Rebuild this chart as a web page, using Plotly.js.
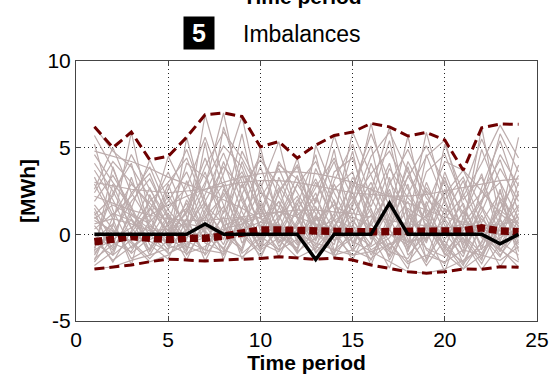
<!DOCTYPE html>
<html>
<head>
<meta charset="utf-8">
<script src="https://cdn.plot.ly/plotly-3.0.1.min.js"></script>
<style>html,body{margin:0;padding:0;background:#fff;}#chart{width:549px;height:379px;}</style>
</head>
<body>
<div id="chart"></div>
<script>
var periods = [1,2,3,4,5,6,7,8,9,10,11,12,13,14,15,16,17,18,19,20,21,22,23,24];
var xTicks = [0,5,10,15,20,25];
var yTicks = [-5,0,5,10];

var actual = [0,0,0,0,0,0,0.6,0,0,0,0,0,-1.45,0,0,0,1.8,0,0,0,0,0,-0.55,0];
var meanImb = [-0.43,-0.23,-0.13,-0.23,-0.3,-0.23,-0.23,-0.1,0.13,0.25,0.25,0.2,0.15,0.15,0.15,0.15,0.15,0.15,0.18,0.2,0.2,0.37,0.2,0.15];
var upperImb = [6.2,5.0,5.9,4.3,4.5,5.6,6.9,7.0,6.8,5.05,5.35,4.4,5.15,5.7,5.9,6.4,6.2,5.67,5.88,5.44,3.7,6.15,6.36,6.35];
var lowerImb = [-2.0,-1.87,-1.77,-1.58,-1.43,-1.48,-1.54,-1.48,-1.43,-1.39,-1.29,-1.35,-1.44,-1.37,-1.48,-1.77,-1.95,-2.16,-2.24,-2.16,-2.0,-2.02,-1.87,-1.9];

var s1 = [6.2,4.8,3.9,2.1,0.5,-0.8,1.2,3.5,6.8,2.0,-0.5,1.4,3.2,0.8,-0.9,2.5,6.2,1.1,-0.3,0.9,2.2,4.1,6.3,4.4];
var s2 = [4.8,4.5,4.2,3.8,3.3,2.9,2.5,2.0,1.5,0.9,0.4,0.0,-0.5,-0.9,-1.2,-1.0,-0.6,0.2,1.1,2.3,3.7,2.5,1.2,0.3];
var s3 = [-1.2,0.5,5.9,1.0,-0.7,0.3,2.8,7.0,2.1,-0.4,1.5,4.4,0.2,-1.1,1.8,6.4,2.0,-0.8,0.5,3.3,0.0,-1.5,2.1,0.6];
var s4 = [1.5,-0.5,-1.0,0.8,4.5,2.3,0.1,-1.2,0.4,2.6,5.35,1.0,-0.6,0.9,3.0,1.2,-1.3,0.7,5.88,2.0,-0.5,1.3,3.8,1.9];
var s5 = [0.3,1.2,0.8,-0.4,-1.0,5.6,1.5,0.0,-0.9,5.05,0.6,-1.0,5.15,2.4,0.3,-1.5,1.2,5.67,1.0,-1.2,0.4,6.15,0.8,-0.6];
var s6 = [-2.0,-1.87,-1.5,-1.2,-0.8,-0.5,-0.2,0.3,0.6,1.0,1.3,1.0,0.6,0.2,-0.4,-1.0,-1.6,-2.16,-2.24,-2.0,-1.5,-0.8,-0.2,0.4];
var s7 = [4.6,3.0,1.5,4.3,2.0,0.5,6.9,3.2,0.1,-1.0,2.5,4.0,1.8,5.7,2.4,0.0,-1.2,2.3,4.5,5.44,1.6,-0.7,1.0,4.0];
var s8 = [0.8,0.2,-0.5,-1.58,-1.2,-0.2,1.0,2.2,3.6,1.4,-0.3,-1.35,-0.8,0.5,1.9,3.5,4.8,2.6,0.5,-1.1,-2.0,-1.2,0.3,1.7];
var s9 = [2.6,5.0,2.4,0.7,1.9,3.6,1.1,-0.6,2.3,4.6,2.2,0.3,-1.44,1.0,5.9,3.4,0.9,-1.0,1.6,4.2,3.7,1.5,-0.8,-1.9];
var s10 = [-0.9,-0.3,0.4,1.1,1.7,2.2,2.6,3.0,3.3,3.5,3.6,3.6,3.5,3.3,3.0,2.6,2.2,1.8,1.4,1.0,0.7,0.4,0.2,0.0];
var s11 = [1.9,3.4,1.6,-0.6,-1.43,0.9,3.0,5.1,3.9,1.1,-1.29,0.8,2.7,4.4,2.1,-0.2,2.9,4.9,2.4,0.1,-1.3,1.8,4.6,2.8];
var s12 = [3.7,2.0,-0.2,1.4,3.6,1.0,-1.54,0.6,4.8,2.6,0.2,2.9,1.2,-1.37,0.4,4.1,1.6,-0.5,3.0,0.5,-1.0,2.7,5.4,2.2];
var s13 = [0.0,-1.6,0.2,2.7,0.4,-1.48,0.8,4.2,1.3,-0.8,3.3,0.9,-0.9,2.9,0.6,-1.77,0.9,3.9,0.2,-2.16,1.0,3.5,-0.4,-1.2];
var s14 = [-1.5,1.0,2.9,1.8,0.6,1.5,4.4,1.7,-1.43,0.2,1.9,-0.4,3.8,1.5,-0.9,2.0,5.4,0.8,-1.4,1.5,0.5,4.9,2.0,-0.5];
var s15 = [2.2,1.8,1.4,1.1,0.9,0.8,0.8,0.9,1.0,1.2,1.3,1.4,1.4,1.3,1.2,1.0,0.8,0.6,0.5,0.4,0.4,0.5,0.6,0.7];
var s16 = [-0.6,2.4,4.1,0.3,-0.9,2.0,0.0,6.2,3.0,0.5,-0.9,1.7,4.6,0.3,-1.48,0.8,2.4,-1.2,0.0,5.2,2.3,0.1,-1.87,-0.3];
var s17 = [5.2,1.4,-0.8,0.0,2.6,4.9,2.0,-1.48,1.5,3.9,1.0,2.2,0.0,3.6,4.4,1.4,-0.8,0.3,2.7,1.1,3.1,0.0,1.5,3.4];
var s18 = [1.0,0.0,1.9,3.2,1.1,-0.7,-1.1,1.3,5.8,0.9,4.2,2.4,0.6,-0.6,2.8,5.1,0.4,1.9,-0.9,-1.7,0.6,2.0,3.0,-1.0];
var s19 = [-1.8,-1.0,0.9,-0.3,0.1,1.2,3.6,0.4,-0.8,1.8,-0.1,-0.9,1.6,-0.4,0.8,-0.6,3.3,-0.9,4.6,1.8,-0.3,-2.02,-0.6,1.2];
var s20 = [3.0,2.8,2.6,2.5,2.4,2.5,2.6,2.8,3.0,3.1,3.1,3.0,2.8,2.6,2.4,2.3,2.2,2.2,2.3,2.5,2.7,2.9,3.1,3.2];
var s21 = [0.5,-0.8,3.3,0.2,2.9,0.0,-0.9,2.6,0.7,-1.39,0.9,3.4,-0.3,1.2,4.8,0.0,-1.95,1.1,-0.5,2.6,-0.8,0.9,-0.4,2.5];
var s22 = [-1.0,3.9,0.9,-1.2,0.7,-1.0,1.8,-0.3,2.9,0.4,2.7,-0.5,0.9,4.9,-0.6,2.7,0.5,2.9,-1.5,0.3,1.8,-0.9,2.6,-1.5];
var s23 = [1.3,-1.2,-0.3,0.5,-0.3,3.1,0.3,1.6,-0.2,1.6,-0.5,0.5,2.4,-0.9,0.0,1.1,-0.4,-2.0,1.9,-0.8,-1.6,0.4,-1.2,0.2];
var s24 = [-0.3,0.6,-1.4,-0.8,1.2,-0.3,5.3,0.5,1.0,-0.8,0.2,1.8,-1.1,0.4,2.2,-0.3,1.7,0.0,-1.8,-0.3,1.3,-1.4,0.9,-0.8];
var s25 = [0.9,1.7,1.1,0.3,-0.6,-1.1,-0.7,0.2,1.0,-0.1,-0.9,-0.3,0.8,1.7,0.9,-0.9,-0.2,1.5,0.8,-0.6,-2.0,-0.4,1.4,0.5];
var s26 = [-1.4,-0.6,0.1,1.5,0.2,1.8,-0.5,-1.0,2.3,-0.6,1.1,-1.0,-0.2,2.0,-1.0,0.6,-0.9,0.8,2.5,1.4,-1.1,1.1,-0.9,-1.6];
var s27 = [2.9,0.9,-1.77,2.3,-0.2,-0.9,1.4,2.9,-0.5,0.7,1.9,0.2,-1.0,-0.1,1.2,3.0,0.3,-1.6,-0.2,3.6,0.9,-0.1,-1.3,0.9];
var s28 = [-0.5,-1.2,1.5,-1.0,1.0,0.4,-0.3,1.0,-1.1,-0.2,0.6,-0.6,1.0,-1.0,-0.2,1.5,-1.5,0.5,-0.8,-1.3,-0.2,-1.7,0.5,1.0];
var s29 = [3.3,1.1,2.2,3.9,1.4,0.2,2.3,4.7,1.9,-0.3,0.8,2.9,4.2,1.8,-0.5,0.7,3.8,2.1,0.9,3.1,1.2,2.4,4.3,1.3];
var s30 = [-0.8,2.9,0.3,1.9,3.0,4.4,1.7,0.6,-1.0,2.1,3.8,1.3,-0.4,3.1,5.2,2.1,0.2,3.4,1.3,-0.9,2.5,5.5,3.0,0.9];
var s31 = [1.7,0.3,-1.1,-0.2,1.5,2.7,5.6,2.7,0.9,3.0,0.0,-0.8,2.0,4.2,1.0,0.5,2.6,-0.3,-1.6,0.9,-0.6,1.6,-0.1,3.0];
var s32 = [0.1,-0.9,1.2,0.6,-0.5,0.9,-1.2,0.1,4.2,1.6,-0.7,0.6,3.0,0.8,1.5,-1.2,0.6,4.2,2.1,0.8,-1.7,-0.5,1.9,-0.2];
var s33 = [4.1,2.5,0.4,-0.9,0.6,4.1,3.3,1.2,3.4,0.2,2.4,3.9,0.5,-1.2,2.6,5.8,3.0,1.4,-0.4,2.0,3.3,0.6,-1.0,1.6];
var s34 = [-1.6,-0.2,2.4,3.5,0.9,-1.2,0.4,2.4,0.0,-1.2,0.5,-1.1,0.3,2.6,3.6,0.2,-1.0,-1.4,0.4,-1.0,0.2,1.9,5.8,3.6];
var s35 = [2.4,4.2,3.0,1.6,0.0,1.3,3.9,5.9,4.4,2.4,1.6,-0.2,1.1,0.0,1.6,4.5,5.9,3.6,1.5,-0.4,-1.8,0.7,2.4,0.4];
var s36 = [0.6,0.9,0.6,0.2,0.3,0.6,0.4,0.0,0.3,0.7,0.5,0.1,0.4,0.8,0.4,0.2,0.0,-0.4,-0.2,0.3,0.6,0.3,0.0,-0.2];
var s37 = [-0.2,-1.5,-0.7,0.0,-1.1,-0.6,0.5,-0.9,-1.3,-0.5,-1.0,0.3,-0.7,-1.2,-0.9,-1.4,-0.5,-1.7,-1.2,-1.6,-0.9,-1.2,-1.5,-0.7];
var s38 = [5.7,3.8,1.2,0.0,2.3,0.4,1.9,3.9,2.7,4.3,2.8,1.1,2.1,0.2,3.3,1.6,4.1,0.3,3.6,4.6,2.0,3.3,0.4,2.3];
var s39 = [1.1,2.2,4.6,2.6,0.9,-0.4,-0.9,-1.1,0.6,1.3,4.0,3.2,1.5,-0.1,-1.2,-0.5,1.5,3.3,5.1,2.9,0.0,-1.1,0.8,5.6];
var s40 = [-1.1,0.2,-0.4,-1.4,-0.3,1.4,0.2,-0.8,0.9,-0.9,-0.2,2.0,0.4,-0.3,0.1,-0.7,0.0,-0.6,0.6,-0.7,1.4,-0.2,-0.9,0.2];

var scenarios = [s1,s2,s3,s4,s5,s6,s7,s8,s9,s10,s11,s12,s13,s14,s15,s16,s17,s18,s19,s20,
                 s21,s22,s23,s24,s25,s26,s27,s28,s29,s30,s31,s32,s33,s34,s35,s36,s37,s38,s39,s40];

var traces = scenarios.map(function(s){
  return {x: periods, y: s, type: 'scatter', mode: 'lines',
          line: {color: '#bcacac', width: 1.2}, hoverinfo: 'skip', showlegend: false};
});
traces.push({x: periods, y: upperImb, type: 'scatter', mode: 'lines',
  line: {color: '#6e0000', width: 3, dash: '10px,5px'}, showlegend: false});
traces.push({x: periods, y: lowerImb, type: 'scatter', mode: 'lines',
  line: {color: '#6e0000', width: 3, dash: '10px,5px'}, showlegend: false});
traces.push({x: periods, y: meanImb, type: 'scatter', mode: 'lines',
  line: {color: '#6e0000', width: 7.5, dash: '8px,4px'}, showlegend: false});
traces.push({x: periods, y: actual, type: 'scatter', mode: 'lines',
  line: {color: '#000000', width: 3.5}, showlegend: false});

var font = 'Liberation Sans, Arial, sans-serif';
var px = function(x){ return (x - 76) / 461; };
var py = function(y){ return (321 - y) / 260; };

var layout = {
  width: 549, height: 379,
  margin: {l: 76, r: 12, t: 61, b: 58},
  paper_bgcolor: '#ffffff', plot_bgcolor: '#ffffff',
  font: {family: font, color: '#000'},
  xaxis: {
    range: [0, 25], tickvals: xTicks, ticktext: xTicks.map(String),
    showgrid: true, gridcolor: '#222', griddash: '1px,3px', gridwidth: 1,
    zeroline: false, showline: true, linecolor: '#444', linewidth: 1, mirror: 'ticks',
    ticks: 'inside', ticklen: 5, tickcolor: '#444',
    tickfont: {size: 21, family: font, color: '#000'},
    title: {text: '<b>Time period</b>', font: {size: 21, family: font, color: '#000'}, standoff: 5}
  },
  yaxis: {
    range: [-5, 10], tickvals: yTicks, ticktext: yTicks.map(String),
    showgrid: true, gridcolor: '#222', griddash: '1px,3px', gridwidth: 1,
    zeroline: false, showline: true, linecolor: '#444', linewidth: 1, mirror: 'ticks',
    ticks: 'inside', ticklen: 5, tickcolor: '#444',
    tickfont: {size: 21, family: font, color: '#000'},
    title: {text: '<b>[MWh]</b>', font: {size: 21, family: font, color: '#000'}, standoff: 6}
  },
  annotations: [
    {xref: 'paper', yref: 'paper', x: px(302), y: py(10), xanchor: 'center', yanchor: 'bottom',
     text: '<b>Time period</b>', showarrow: false, font: {size: 21, family: font, color: '#000'}},
    {xref: 'paper', yref: 'paper', x: px(198.5), y: py(33.5), xanchor: 'center', yanchor: 'middle',
     text: '<b>5</b>', showarrow: false, bgcolor: '#000', borderpad: 2, width: 26, height: 28,
     font: {size: 25, family: font, color: '#fff'}},
    {xref: 'paper', yref: 'paper', x: px(302), y: py(34), xanchor: 'center', yanchor: 'middle',
     text: 'Imbalances', showarrow: false, font: {size: 23, family: font, color: '#000'}}
  ]
};

Plotly.newPlot('chart', traces, layout, {displayModeBar: false, staticPlot: true});
</script>
</body>
</html>
